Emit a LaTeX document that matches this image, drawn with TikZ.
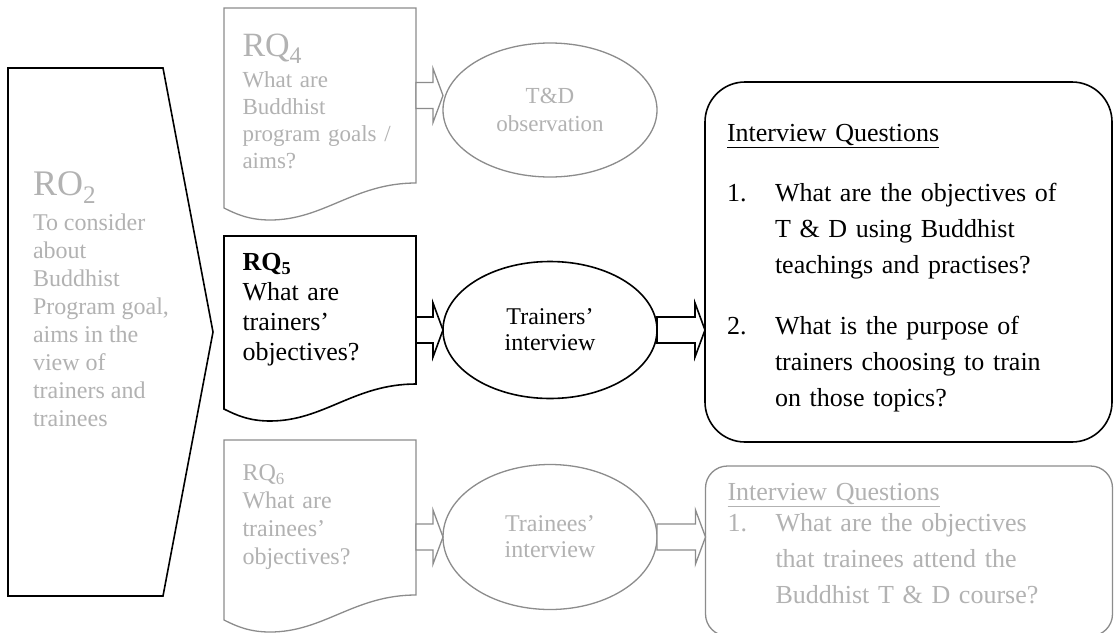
\documentclass[tikz,border=0pt]{standalone}
\usepackage{fontspec}
\setmainfont{Liberation Serif}
\usetikzlibrary{shapes.geometric,calc}

\newcommand{\blockarrow}[4][]{%
  \draw [blockarr,#1] let \p1=(#2.east), \p2=(#3.west), \p3=(#4) in
    (\x1,\y3+13pt) -- (\x2-10pt,\y3+13pt) -- (\x2-10pt,\y3+27pt) -- (\x2,\y3)
    -- (\x2-10pt,\y3-27pt) -- (\x2-10pt,\y3-13pt) -- (\x1,\y3-13pt) -- cycle;}
\newcommand{\docoutline}[2][]{%
  \draw [#1] (#2.north west) -- (#2.north east) -- (#2.south east)
    .. controls ($(#2.south east)+(-62,0)$) and ($(#2.south east)+(-92,37)$) .. ($(#2.south east)+(-146,37)$)
    .. controls ($(#2.south east)+(-167,37)$) and ($(#2.south east)+(-180,31)$) .. ($(#2.south west)+(0,25)$) -- cycle;}

\begin{document}
\begin{tikzpicture}[x=1pt,y=-1pt,
    every node/.style={inner sep=0pt, outer sep=0pt},
    solidline/.style={draw=black, line width=1.6pt},
    faintline/.style={draw=black!45, line width=1.3pt},
    faint/.style={text=black!30},
    rqbox/.style={rectangle, anchor=north west, minimum width=192, text width=155, inner xsep=18.5, align=left},
    oval/.style={ellipse, minimum width=214, align=center},
    qbox/.style={rectangle, rounded corners=40, minimum width=407, text width=363, inner xsep=22, align=left},
    blockarr/.style={fill=white}]
    \useasboundingbox (0,0) rectangle (1115,632);
    \clip (0,0) rectangle (1115,632);
    \fill [white] (0,0) rectangle (1115,632);

    \draw [solidline] (8,68) -- (163,68) -- (213,332) -- (163,596) -- (8,596) -- cycle;
    \node [faint, anchor=north west, align=left, font=\fontsize{24}{28}\selectfont] (ro2) at (33,172)
        {{\fontsize{36}{28}\selectfont RO\textsubscript{2}}\\[7pt] To consider\\ about\\ Buddhist\\ Program goal,\\ aims in the\\ view of\\ trainers and\\ trainees};

    \node [rqbox, faint, minimum height=175, font=\fontsize{23}{27}\selectfont] (rq4) at (224,8)
        {\rule{0pt}{34pt}{\fontsize{34}{27}\selectfont RQ\textsubscript{4}}\\[4pt] What are\\ Buddhist\\ program goals /\\ aims?};
    \node [rqbox, minimum height=148, font=\fontsize{26}{30}\selectfont] (rq5) at (224,236)
        {\textbf{RQ\textsubscript{5}}\\ What are\\ trainers'\\ objectives?};
    \node [rqbox, faint, minimum height=155, font=\fontsize{24}{28}\selectfont] (rq6) at (224,440)
        {RQ\textsubscript{6}\\ What are\\ trainees'\\ objectives?};
    \docoutline[faintline]{rq4}
    \docoutline[solidline]{rq5}
    \docoutline[faintline]{rq6}

    \node [oval, faintline, faint, minimum height=134, font=\fontsize{23}{28}\selectfont] (obs) at (550,110) {T\&D\\observation};
    \node [oval, solidline, minimum height=137, font=\fontsize{24}{26}\selectfont] (trn) at (550,330) {Trainers'\\interview};
    \node [oval, faintline, faint, minimum height=145, font=\fontsize{24}{26}\selectfont] (tre) at (550,537) {Trainees'\\interview};

    \node [qbox, solidline, minimum height=360, font=\fontsize{26}{36}\selectfont] (iq) at (908.5,262)
        {\begin{tabular}{@{}p{48pt}@{}l@{}}
        \multicolumn{2}{@{}l@{}}{\rule{0pt}{35pt}\underline{Interview Questions}}\\[24pt]
        1. & What are the objectives of\\
           & T \& D using Buddhist\\
           & teachings and practises?\\[25pt]
        2. & What is the purpose of\\
           & trainers choosing to train\\
           & on those topics?
        \end{tabular}};
    \node [qbox, rounded corners=22, faintline, faint, minimum height=170, font=\fontsize{26}{36}\selectfont] (iq2) at (909,551)
        {\begin{tabular}{@{}p{48pt}@{}l@{}}
        \multicolumn{2}{@{}l@{}}{\rule{0pt}{32pt}\underline{Interview Questions}}\\[-5pt]
        1. & What are the objectives\\
           & that trainees attend the\\
           & Buddhist T \& D course?\\[19pt]
        \end{tabular}};

    \blockarrow[faintline]{rq4}{obs}{rq4}
    \blockarrow[solidline]{rq5}{trn}{trn}
    \blockarrow[faintline]{rq6}{tre}{tre}
    \blockarrow[solidline]{trn}{iq}{trn}
    \blockarrow[faintline]{tre}{iq2}{tre}
\end{tikzpicture}
\end{document}
